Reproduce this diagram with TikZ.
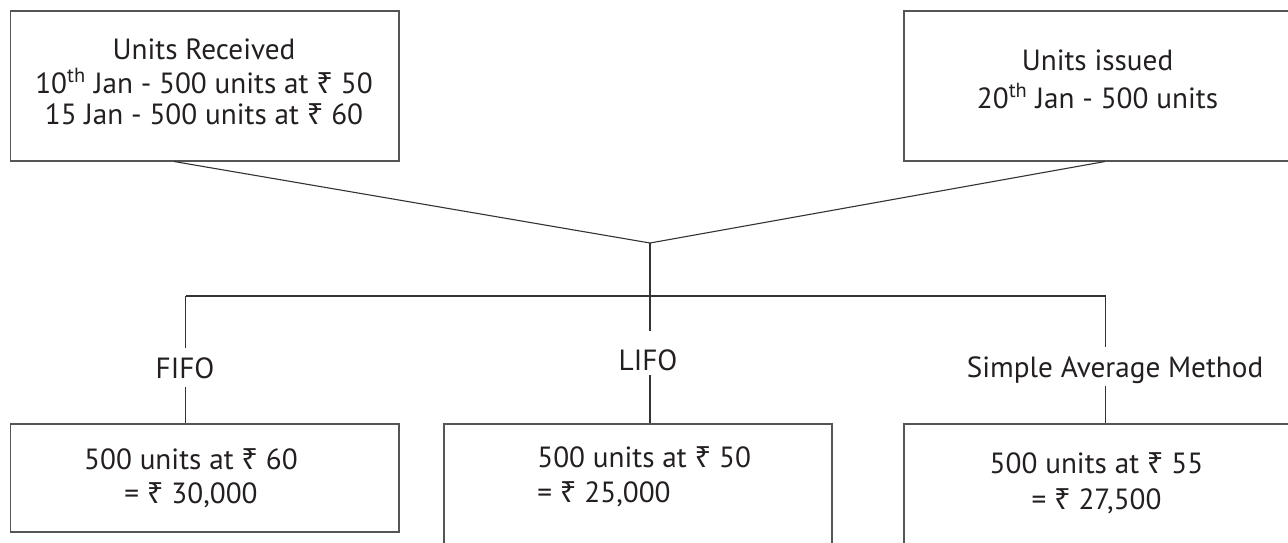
\documentclass[tikz,border=0pt]{standalone}
\usepackage{fontspec}
\setmainfont{PT Sans}
\newfontfamily\rupeefont{Noto Sans}
\newcommand\Rs{{\rupeefont\symbol{"20B9}}}
\usetikzlibrary{calc}
\definecolor{ink}{HTML}{231F20}
\definecolor{boxgray}{HTML}{555555}
\definecolor{wiregray}{HTML}{333333}
\begin{document}
\begin{tikzpicture}[x=0.5pt,y=-0.5pt,
  box/.style={draw=boxgray, line width=0.75pt, inner sep=0pt, anchor=north west},
  txt/.style={anchor=base, inner sep=0pt, text=ink, font=\fontsize{14.6}{15.5}\selectfont},
  lbl/.style={anchor=base, text=ink, font=\fontsize{14.6}{15.5}\selectfont,
              text height=10.5pt, text depth=0pt, inner xsep=0pt, inner ysep=4.5pt},
  wire/.style={draw=wiregray, line width=0.55pt}]
\useasboundingbox (0,0) rectangle (1288,542);
\clip (0,0) rectangle (1288,542);

% boxes
\node[box, minimum width=194.25pt, minimum height=75pt] (rec) at (9.5,10) {};
\node[box, minimum width=194.5pt,  minimum height=75pt] (iss) at (903,10) {};
\node[box, minimum width=194.25pt, minimum height=54pt] (fbox) at (9.5,423) {};
\node[box, minimum width=194pt,    minimum height=70pt] (lbox) at (443,423) {};
\node[box, minimum width=194.5pt,  minimum height=70pt] (sbox) at (903,423) {};

% box contents
\node[txt] (recT) at (204,59) {\begin{tabular}[t]{@{}c@{}}Units Received\\
  10\textsuperscript{th} Jan - 500 units at \Rs\ 50\\
  15 Jan - 500 units at \Rs\ 60\end{tabular}};
\node[txt] (issT) at (1097.5,70) {\begin{tabular}[t]{@{}c@{}}Units issued\\[2pt]
  20\textsuperscript{th} Jan - 500 units\end{tabular}};
\node[txt] (fT) at (191,469) {\begin{tabular}[t]{@{}c@{}}500 units at \Rs\ 60\\[1.5pt]
  = \Rs\ 30,000\end{tabular}};
\node[txt, anchor=base west] (lT) at (537,467) {\begin{tabular}[t]{@{}l@{}}500 units at \Rs\ 50\\[2pt]
  = \Rs\ 25,000\end{tabular}};
\node[txt] (sT) at (1096.5,473) {\begin{tabular}[t]{@{}c@{}}500 units at \Rs\ 55\\[2.5pt]
  = \Rs\ 27,500\end{tabular}};

% method labels
\node[lbl] (fifo) at (185,378) {FIFO};
\node[lbl] (lifo) at (648,370) {LIFO};
\node[lbl] (sam)  at (1115,377) {Simple Average Method};

% junction and branch bar
\coordinate (j) at (650,243);
\coordinate (barL) at (185.5,296);
\coordinate (barR) at (1105.5,296);

\draw[wire] ($(rec.south west)+(164.5,0)$) -- (j);
\draw[wire] ($(iss.south west)+(202,0)$) -- (j);
\draw[wire] (barL) -- (barR);

\draw[wire] (j) -- ($(j |- lifo.north)+(0,-9)$);
\draw[wire] ($(j |- lifo.south)+(0,-4)$) -- (j |- lbox.north);

\draw[wire] (barL) -- (barL |- fifo.north);
\draw[wire] (barL |- fifo.south) -- (barL |- fbox.north);

\draw[wire] (barR) -- (barR |- sam.north);
\draw[wire] (barR |- sam.south) -- (barR |- sbox.north);
\end{tikzpicture}
\end{document}
